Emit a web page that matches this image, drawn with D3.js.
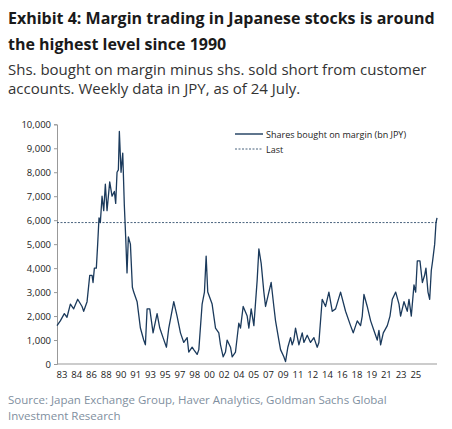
<!DOCTYPE html>
<html><head><meta charset="utf-8">
<script src="https://cdn.jsdelivr.net/npm/d3@7"></script>
<style>body{margin:0;background:#fff}text{font-family:"Open Sans",Arial,sans-serif}</style>
</head><body><svg id="c" width="452" height="429"></svg>
<script>
// decimal years and values (bn JPY)
var years = [1983.00,1983.37,1983.82,1984.12,1984.50,1984.87,1985.32,1985.81,1985.99,1986.37,1986.67,1986.93,1987.04,1987.19,1987.41,1987.56,1987.71,1987.86,1988.05,1988.24,1988.42,1988.61,1988.91,1989.17,1989.43,1989.58,1989.73,1989.88,1989.99,1990.18,1990.37,1990.55,1990.70,1990.85,1991.00,1991.23,1991.45,1991.60,1991.98,1992.35,1992.72,1992.91,1993.10,1993.40,1993.77,1994.22,1994.52,1994.89,1995.27,1995.53,1996.09,1996.46,1996.84,1997.21,1997.59,1997.77,1998.15,1998.33,1998.71,1998.90,1999.27,1999.53,1999.72,1999.90,2000.39,2000.77,2001.14,2001.33,2001.63,2001.89,2002.07,2002.45,2002.64,2003.01,2003.38,2003.57,2003.87,2004.32,2004.51,2004.77,2005.07,2005.44,2005.63,2005.89,2006.19,2006.38,2006.75,2007.01,2007.31,2007.50,2007.87,2008.06,2008.43,2008.62,2008.88,2009.18,2009.37,2009.55,2009.74,2010.12,2010.49,2010.68,2011.05,2011.42,2011.80,2012.17,2012.36,2012.73,2013.11,2013.48,2013.86,2014.23,2014.79,2015.35,2015.91,2016.21,2016.66,2017.03,2017.22,2017.41,2017.78,2018.16,2018.53,2018.90,2019.09,2019.28,2019.58,2020.03,2020.33,2020.59,2020.97,2021.34,2021.52,2021.90,2022.27,2022.46,2022.72,2023.02,2023.21,2023.39,2023.69,2023.96,2024.21,2024.36,2024.59,2024.78,2024.96,2025.11,2025.34,2025.49,2025.60];
var values = [1600,1800,2100,1950,2500,2300,2700,2400,2200,2600,3700,3700,3400,4000,4000,5000,6100,5900,7000,6400,7500,6400,7600,7000,7200,6700,8000,8100,9700,8000,8800,6600,5300,3800,5300,5000,3200,3000,2600,1500,1000,800,2300,2300,1300,2100,1500,1100,700,1500,2600,2000,1300,900,1100,500,700,600,400,600,2500,3000,4500,3000,2500,1500,1300,800,300,500,1000,700,300,500,1700,1500,2400,2000,1500,2300,1600,3500,4800,4200,3000,2400,3000,3400,2400,1800,1000,600,300,100,700,1100,800,1000,1500,800,1300,900,1200,900,1100,700,900,2700,2400,3000,2200,2300,3000,2200,1600,1300,1800,1600,2000,2900,2400,1800,1400,1000,1400,800,1300,1600,2000,2700,3000,2500,2000,2600,2200,2700,2000,3300,3000,4300,4300,3400,3700,4000,3000,2700,3900,4300,5000,5900,6100];
var lastValue = 5900;
var tickLabels = ["83","84","86","88","90","91","93","95","97","98","00","02","04","05","07","09","11","12","14","16","18","19","21","23","25"];
var yTicks = [0,1000,2000,3000,4000,5000,6000,7000,8000,9000,10000];

var svg = d3.select("#c");
var navy = "#1b3a5c";

svg.append("text").attr("x",8).attr("y",24).attr("font-size",16).attr("font-weight","bold").attr("fill","#1a1a1a")
  .text("Exhibit 4: Margin trading in Japanese stocks is around");
svg.append("text").attr("x",8).attr("y",50).attr("font-size",16).attr("font-weight","bold").attr("fill","#1a1a1a")
  .text("the highest level since 1990");
svg.append("text").attr("x",8).attr("y",75).attr("font-size",15).attr("fill","#333")
  .text("Shs. bought on margin minus shs. sold short from customer");
svg.append("text").attr("x",8).attr("y",94).attr("font-size",15).attr("fill","#333")
  .text("accounts. Weekly data in JPY, as of 24 July.");

var x = d3.scaleLinear().domain([1983,2025.6]).range([57,437]);
var y = d3.scaleLinear().domain([0,10000]).range([364,124.3]);

var ya = svg.append("g").attr("transform","translate(57,0)")
  .call(d3.axisLeft(y).tickValues(yTicks).tickFormat(d3.format(",")).tickSize(3));
ya.selectAll("text").attr("font-size",9.5).attr("fill","#222");
ya.selectAll("line,path").attr("stroke","#999");

// category-style labels, evenly spaced like the original axis
var xl = d3.scalePoint().domain(tickLabels.map(function(d,i){return i;})).range([x(1983.56), x(1983.56+1.653*24)]);
var xa = svg.append("g").attr("transform","translate(0,364)");
xa.append("line").attr("x1",57).attr("x2",437).attr("stroke","#999");
xa.selectAll("text.t").data(tickLabels).enter().append("text").attr("class","t")
  .attr("x",function(d,i){return xl(i);}).attr("y",14).attr("text-anchor","middle")
  .attr("font-size",9.5).attr("fill","#222").text(function(d){return d;});

svg.append("line").attr("x1",57).attr("x2",437).attr("y1",y(lastValue)).attr("y2",y(lastValue))
  .attr("stroke",navy).attr("stroke-width",0.8).attr("stroke-dasharray","2,1.5");

var data = years.map(function(d,i){return [d,values[i]];});
svg.append("path").datum(data).attr("fill","none").attr("stroke",navy).attr("stroke-width",1.3)
  .attr("stroke-linejoin","round")
  .attr("d",d3.line().x(function(d){return x(d[0]);}).y(function(d){return y(d[1]);}));

svg.append("line").attr("x1",235).attr("x2",263).attr("y1",134).attr("y2",134).attr("stroke",navy).attr("stroke-width",1.4);
svg.append("text").attr("x",266).attr("y",137.5).attr("font-size",9).attr("fill","#222").text("Shares bought on margin (bn JPY)");
svg.append("line").attr("x1",235).attr("x2",263).attr("y1",149).attr("y2",149).attr("stroke",navy).attr("stroke-width",0.8).attr("stroke-dasharray","2,1.5");
svg.append("text").attr("x",266).attr("y",152.5).attr("font-size",9).attr("fill","#222").text("Last");

svg.append("text").attr("x",8).attr("y",404).attr("font-size",11.5).attr("fill","#7f8fa0")
  .text("Source: Japan Exchange Group, Haver Analytics, Goldman Sachs Global");
svg.append("text").attr("x",8).attr("y",420).attr("font-size",11.5).attr("fill","#7f8fa0")
  .text("Investment Research");
</script></body></html>
